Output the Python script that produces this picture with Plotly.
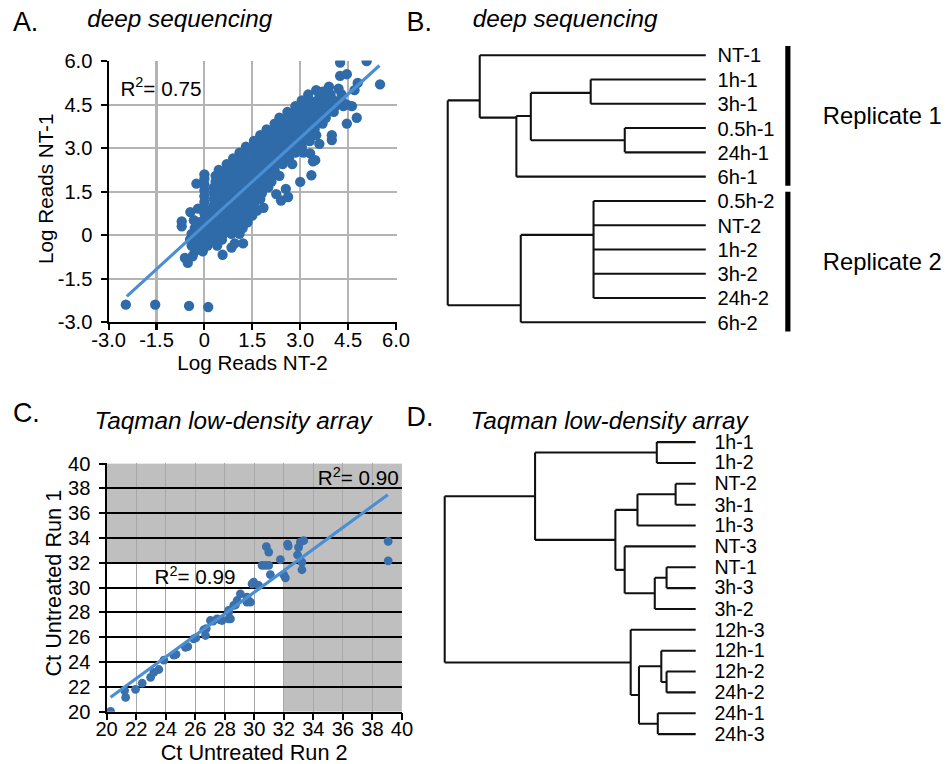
import plotly.graph_objects as go

W, H = 946, 764
FONT = "Liberation Sans, Arial, Helvetica, sans-serif"
DOT = "#2f6ba8"
FIT = "#4a8fd3"

# ---------------- Panel A : deep sequencing scatter ----------------
a_rows = [
    (5.0, [3.5, 3.85]),
    (4.85, [3.25, 3.6, 3.95, 4.3]),
    (4.65, [3.05, 3.3, 3.55, 3.8, 4.05, 4.3]),
    (4.45, [2.85, 3.1, 3.35, 3.6, 3.85, 4.1, 4.35]),
    (4.25, [2.6, 2.85, 3.1, 3.35, 3.6, 3.85, 4.05]),
    (4.05, [2.35, 2.6, 2.85, 3.1, 3.35, 3.6, 3.8]),
    (3.85, [2.2, 2.45, 2.7, 2.95, 3.2, 3.45, 3.7]),
    (3.65, [1.95, 2.2, 2.45, 2.7, 2.95, 3.2, 3.45]),
    (3.45, [1.75, 2.0, 2.25, 2.5, 2.75, 3.0, 3.25, 3.5]),
    (3.25, [1.55, 1.8, 2.05, 2.3, 2.55, 2.8, 3.05, 3.3]),
    (3.05, [1.3, 1.55, 1.8, 2.05, 2.3, 2.55, 2.8, 3.05]),
    (2.85, [1.1, 1.35, 1.6, 1.85, 2.1, 2.35, 2.6, 2.85, 3.1]),
    (2.65, [0.9, 1.15, 1.4, 1.65, 1.9, 2.15, 2.4, 2.65]),
    (2.45, [0.7, 0.95, 1.2, 1.45, 1.7, 1.95, 2.2, 2.45, 2.75]),
    (2.25, [0.45, 0.7, 0.95, 1.2, 1.45, 1.7, 1.95, 2.2]),
    (2.05, [0.35, 0.6, 0.85, 1.1, 1.35, 1.6, 1.85, 2.1, 2.35]),
    (1.85, [0.35, 0.6, 0.85, 1.1, 1.35, 1.6, 1.85, 2.1]),
    (1.65, [0.3, 0.55, 0.8, 1.05, 1.3, 1.55, 1.8, 2.0]),
    (1.45, [0.3, 0.55, 0.8, 1.05, 1.3, 1.55, 1.8]),
    (1.25, [0.3, 0.55, 0.8, 1.05, 1.3, 1.55, 1.75]),
    (1.05, [0.3, 0.55, 0.8, 1.05, 1.3, 1.55]),
    (0.85, [0.2, 0.45, 0.7, 0.95, 1.2, 1.45, 1.65]),
    (0.65, [0.05, 0.3, 0.55, 0.8, 1.05, 1.3]),
    (0.45, [-0.15, 0.1, 0.35, 0.6, 0.85, 1.1, 1.35]),
    (0.25, [-0.3, -0.05, 0.2, 0.45, 0.7, 0.95, 1.2]),
    (0.05, [-0.4, -0.15, 0.1, 0.35, 0.6, 0.85, 1.1]),
    (-0.15, [-0.45, -0.2, 0.05, 0.3, 0.55]),
    (-0.35, [-0.4, -0.15, 0.1, 0.4]),
    (-0.55, [-0.3, -0.05]),
]
# in-between points that fill the dense core
a_fill_x = [3.45, 3.7, 3.2, 2.95, 2.7, 3.45, 2.5, 2.25, 3.0, 2.0, 2.75, 1.7,
            2.45, 1.45, 2.2, 1.2, 1.95, 1.0, 1.7, 0.8, 1.45, 0.6, 1.2, 0.5,
            0.95, 0.45, 0.7, 0.45, 1.2, 0.35, 0.9, 0.15, 0.6, -0.05, 0.4, -0.25]
a_fill_y = [4.55, 4.35, 4.15, 3.95, 3.75, 3.75, 3.55, 3.35, 3.35, 3.15, 3.15, 2.95,
            2.95, 2.75, 2.75, 2.55, 2.55, 2.35, 2.35, 2.15, 2.15, 1.95, 1.95, 1.75,
            1.55, 1.35, 1.15, 0.95, 0.95, 0.75, 0.55, 0.55, 0.35, 0.15, -0.05, -0.25]
a_stripe_x = 0.0
a_stripe_y = [0.35, 0.55, 0.75, 0.95, 1.15, 1.35, 1.55, 1.75, 1.95, 2.1]
a_out_x = [-2.46, -1.54, -0.48, 0.12, -0.71, -0.71, -0.44, -0.33, -0.25, -0.2,
           -0.61, -0.52, -0.37, 0.57, 0.95, 1.21, 2.62, 3.0, 3.35, 3.47, 3.31,
           3.99, 3.99, 4.46, 4.77, 4.62, 4.46, 4.7, 4.8, 5.5, 4.25, 4.46, 4.25,
           5.08, 4.2, 3.9, 3.7, 2.55, 2.4, 1.5, 1.85, 2.25, 0.85, 3.4, 3.6]
a_out_y = [-2.39, -2.39, -2.43, -2.47, 0.48, 0.31, 0.80, 0.52, 1.78, 0.92,
           -0.78, -0.95, -0.72, -0.67, -0.28, -0.28, 1.32, 1.84, 2.07, 2.59, 2.82,
           3.28, 3.45, 3.85, 4.05, 4.45, 4.5, 5.0, 5.25, 5.2, 5.49, 5.55, 5.95,
           6.0, 5.05, 5.12, 4.95, 1.6, 1.2, 0.68, 0.95, 1.42, -0.42, 2.55, 3.15]
a_fit_slope, a_fit_intercept = 1.005, 0.342
a_fit_xrange = [-2.43, 5.48]
a_r2 = "0.75"
a_tickvals = [-3.0, -1.5, 0.0, 1.5, 3.0, 4.5, 6.0]
a_ticktext = ["-3.0", "-1.5", "0", "1.5", "3.0", "4.5", "6.0"]

# ---------------- Panel B : deep sequencing dendrogram ----------------
b_leaves = ["NT-1", "1h-1", "3h-1", "0.5h-1", "24h-1", "6h-1",
            "0.5h-2", "NT-2", "1h-2", "3h-2", "24h-2", "6h-2"]
b_nodes = {
    "n1": (0.446, 1.55, [1, 2]),
    "n2": (0.314, 3.5, [3, 4]),
    "n3": (0.678, 2.5, ["n1", "n2"]),
    "n4": (0.734, 2.57, ["n3", 5]),
    "n5": (0.876, 1.86, [0, "n4"]),
    "n6": (0.435, 7.4, [6, 7, 8, 9, 10]),
    "n7": (0.717, 10.3, ["n6", 11]),
    "root": (1.0, None, ["n5", "n7"]),
}
b_groups = [("Replicate 1", 0, 5), ("Replicate 2", 6, 11)]

# ---------------- Panel C : Taqman scatter ----------------
c_x = [20.27, 21.29, 21.22, 21.96, 22.41, 22.98, 23.2, 23.54, 23.88, 24.55,
       24.7, 25.34, 25.5, 25.9, 26.05, 26.58, 26.7, 26.75, 27.03, 27.2,
       27.48, 27.7, 27.82, 28.27, 28.39, 28.27, 28.27, 28.61, 28.72, 28.84,
       29.06, 29.51, 29.51, 29.74, 29.85, 29.96, 30.3,
       30.53, 30.75, 30.98, 30.82, 30.98, 31.09, 31.77, 31.99, 32.11, 32.26,
       32.3, 33.0, 32.93, 33.12, 33.35, 33.23, 33.23, 39.07, 39.07]
c_y = [20.02, 21.15, 21.7, 21.8, 22.29, 22.77, 23.17, 23.4, 24.15, 24.55,
       24.62, 25.19, 25.25, 25.87, 25.95, 26.6, 26.14, 26.7, 27.35, 27.3,
       27.48, 27.4, 27.35, 27.48, 27.48, 28.02, 28.16, 28.56, 28.6, 28.96,
       29.5, 28.83, 29.23, 28.83, 30.3, 30.44, 30.17,
       31.79, 31.79, 31.79, 33.3, 32.86, 31.05, 32.26, 31.05, 30.79, 33.5,
       33.35, 33.24, 32.64, 33.67, 33.78, 32.05, 31.44, 33.73, 32.15]
c_fit_slope, c_fit_intercept = 0.870, 3.52
c_fit_xrange = [20.27, 39.05]
c_r2_all, c_r2_low = "0.90", "0.99"
c_cutoff = 32
c_tickvals = list(range(20, 41, 2))

# ---------------- Panel D : Taqman dendrogram ----------------
d_leaves = ["1h-1", "1h-2", "NT-2", "3h-1", "1h-3", "NT-3", "NT-1", "3h-3",
            "3h-2", "12h-3", "12h-1", "12h-2", "24h-2", "24h-1", "24h-3"]
d_nodes = {
    "a": (0.155, None, [0, 1]),
    "b": (0.080, None, [2, 3]),
    "c": (0.232, None, ["b", 4]),
    "d": (0.116, None, [6, 7]),
    "e": (0.163, None, ["d", 8]),
    "f": (0.283, None, [5, "e"]),
    "g": (0.320, None, ["c", "f"]),
    "h": (0.640, None, ["a", "g"]),
    "i": (0.116, None, [11, 12]),
    "j": (0.137, None, [10, "i"]),
    "k": (0.151, None, [13, 14]),
    "l": (0.226, None, ["j", "k"]),
    "m": (0.259, None, [9, "l"]),
    "root": (1.0, None, ["h", "m"]),
}


def dendro_xy(nodes, n_leaves):
    pos = {i: (0.0, float(i)) for i in range(n_leaves)}
    xs, ys = [], []

    def place(name):
        if name in pos:
            return pos[name]
        h, attach, kids = nodes[name]
        kp = [place(k) for k in kids]
        kys = [p[1] for p in kp]
        lo, hi = min(kys), max(kys)
        xs.extend([h, h, None])
        ys.extend([lo, hi, None])
        for kh, ky in kp:
            xs.extend([kh, h, None])
            ys.extend([ky, ky, None])
        pos[name] = (h, attach if attach is not None else (lo + hi) / 2)
        return pos[name]

    place("root")
    return xs, ys


def dom_x(p0, p1):
    return [p0 / W, p1 / W]


def dom_y(ptop, pbot):
    return [1 - pbot / H, 1 - ptop / H]


a_x, a_y = [], []
for yy, xs in a_rows:
    for xx in xs:
        a_x.append(xx)
        a_y.append(yy)
for yy in a_stripe_y:
    a_x.append(a_stripe_x)
    a_y.append(yy)
a_x += a_fill_x + a_out_x
a_y += a_fill_y + a_out_y

fig = go.Figure()

fig.add_trace(go.Scatter(x=a_x, y=a_y, mode="markers", xaxis="x", yaxis="y",
                         marker=dict(size=10, color=DOT), showlegend=False))
fig.add_trace(go.Scatter(x=a_fit_xrange,
                         y=[a_fit_slope * v + a_fit_intercept for v in a_fit_xrange],
                         mode="lines", xaxis="x", yaxis="y",
                         line=dict(color=FIT, width=3), showlegend=False))

bx, by = dendro_xy(b_nodes, len(b_leaves))
fig.add_trace(go.Scatter(x=bx, y=by, mode="lines", xaxis="x2", yaxis="y2",
                         line=dict(color="#111111", width=2), showlegend=False))
BAR_X = -0.318
for name, s, e in b_groups:
    fig.add_trace(go.Scatter(x=[BAR_X, BAR_X], y=[s - 0.38, e + 0.38], mode="lines",
                             xaxis="x2", yaxis="y2",
                             line=dict(color="black", width=5), showlegend=False))

fig.add_trace(go.Scatter(x=c_x, y=c_y, mode="markers", xaxis="x3", yaxis="y3",
                         marker=dict(size=8.5, color="#3a70ab"), showlegend=False))
fig.add_trace(go.Scatter(x=c_fit_xrange,
                         y=[c_fit_slope * v + c_fit_intercept for v in c_fit_xrange],
                         mode="lines", xaxis="x3", yaxis="y3",
                         line=dict(color=FIT, width=3), showlegend=False))

dx_, dy_ = dendro_xy(d_nodes, len(d_leaves))
fig.add_trace(go.Scatter(x=dx_, y=dy_, mode="lines", xaxis="x4", yaxis="y4",
                         line=dict(color="#111111", width=2), showlegend=False))

tickfont = dict(family=FONT, size=19.5, color="black")
common = dict(zeroline=False, showline=True, linecolor="black", linewidth=1.5,
              ticks="outside", ticklen=6, tickwidth=1.5, tickcolor="black",
              tickfont=tickfont)
hidden = dict(visible=False, showgrid=False, zeroline=False)

shapes = [
    dict(type="rect", xref="x3", yref="y3", x0=20, x1=40, y0=c_cutoff, y1=40,
         fillcolor="#bfbfbf", line=dict(width=0), layer="below"),
    dict(type="rect", xref="x3", yref="y3", x0=c_cutoff, x1=40, y0=20, y1=c_cutoff,
         fillcolor="#bfbfbf", line=dict(width=0), layer="below"),
]

ann = []


def txt(x, y, s, size, xref="paper", yref="paper", xanchor="left", angle=0, xshift=0):
    ann.append(dict(x=x, y=y, xref=xref, yref=yref, text=s, showarrow=False,
                    xanchor=xanchor, yanchor="middle", textangle=angle, xshift=xshift,
                    font=dict(family=FONT, size=size, color="black")))


txt(10 / W, 1 - 24 / H, "A.", 26)
txt(85 / W, 1 - 21 / H, "<i>deep sequencing</i>", 23.5)
txt(404 / W, 1 - 24 / H, "B.", 26)
txt(470 / W, 1 - 21 / H, "<i>deep sequencing</i>", 23.5)
txt(10 / W, 1 - 413 / H, "C.", 26)
txt(92 / W, 1 - 421 / H, "<i>Taqman low-density array</i>", 23.5)
txt(404 / W, 1 - 417 / H, "D.", 26)
txt(468 / W, 1 - 421 / H, "<i>Taqman low-density array</i>", 23.5)

txt(45 / W, 1 - 190 / H, "Log Reads NT-1", 20, xanchor="center", angle=-90)
txt(252 / W, 1 - 363 / H, "Log Reads NT-2", 20, xanchor="center")
txt(52 / W, 1 - 583 / H, "Ct Untreated Run 1", 21, xanchor="center", angle=-90)
txt(254 / W, 1 - 751 / H, "Ct Untreated Run 2", 21, xanchor="center")

txt(-2.69, 5.12, "R<sup>2</sup>= " + a_r2, 20, xref="x", yref="y")
txt(23.1, 31.0, "R<sup>2</sup>= " + c_r2_low, 20, xref="x3", yref="y3")
txt(34.14, 38.95, "R<sup>2</sup>= " + c_r2_all, 20, xref="x3", yref="y3")

for i, lab in enumerate(b_leaves):
    txt(0, i, lab, 19.5, xref="x2", yref="y2", xshift=9)
for name, s, e in b_groups:
    txt(820 / W, (s + e) / 2, name, 23, xref="paper", yref="y2")
for i, lab in enumerate(d_leaves):
    txt(0, i, lab, 19, xref="x4", yref="y4", xshift=16)

fig.update_layout(
    width=W, height=H, autosize=False,
    margin=dict(l=0, r=0, t=0, b=0),
    paper_bgcolor="white", plot_bgcolor="white",
    showlegend=False,
    font=dict(family=FONT, color="black"),
    xaxis=dict(common, showgrid=True, gridcolor="#b4b4b4", gridwidth=1.5,
               domain=dom_x(108, 396), range=[-3, 6.02], anchor="y",
               tickvals=a_tickvals, ticktext=a_ticktext, ticklabelstandoff=-7),
    yaxis=dict(common, showgrid=True, gridcolor="#b4b4b4", gridwidth=1.5,
               domain=dom_y(62, 323), range=[-3, 6.02], anchor="x",
               tickvals=a_tickvals, ticktext=a_ticktext, ticklabelstandoff=4),
    xaxis2=dict(hidden, domain=dom_x(437, 800), range=[1.039, -0.368], anchor="y2"),
    yaxis2=dict(hidden, domain=dom_y(40, 340), range=[11.707, -0.690], anchor="x2"),
    xaxis3=dict(common, showgrid=True, gridcolor="#a8a8a8", gridwidth=1.3,
                domain=dom_x(106, 401.7), range=[20, 40.03], anchor="y3",
                tickvals=c_tickvals, ticklabelstandoff=-8),
    yaxis3=dict(common, showgrid=True, gridcolor="black", gridwidth=1.8,
                domain=dom_y(463.3, 711), range=[20, 40.03], anchor="x3",
                tickvals=c_tickvals, ticklabelstandoff=4),
    xaxis4=dict(hidden, domain=dom_x(434, 705), range=[1.04, -0.04], anchor="y4"),
    yaxis4=dict(hidden, domain=dom_y(430, 745), range=[14.56, -0.592], anchor="x4"),
    shapes=shapes,
    annotations=ann,
)

# the page is photographed with a small offset and scale; compensate so the
# figure fills the 946x764 frame exactly
post = (
    "document.body.style.margin='0px';"
    "var gd=document.getElementById('{plot_id}');"
    "gd.style.transformOrigin='0 0';"
    "gd.style.transform='translate(-17px,-13px) scale(1.033)';"
)
fig.write_html("out.html", config={"displayModeBar": False}, post_script=post)
